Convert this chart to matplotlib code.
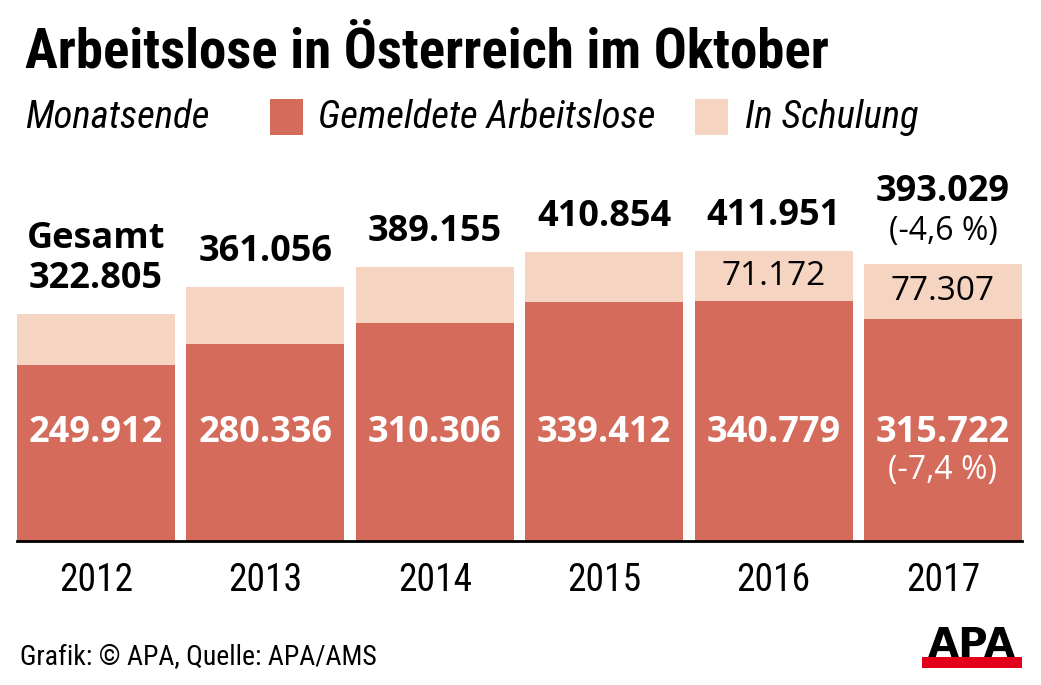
import matplotlib
matplotlib.use("Agg")
import matplotlib.pyplot as plt
from matplotlib.patches import Rectangle

years = ["2012", "2013", "2014", "2015", "2016", "2017"]
gemeldet = [249912, 280336, 310306, 339412, 340779, 315722]
gesamt = [322805, 361056, 389155, 410854, 411951, 393029]
schulung = [g - a for g, a in zip(gesamt, gemeldet)]
gemeldet_labels = ["249.912", "280.336", "310.306", "339.412", "340.779", "315.722"]
gesamt_labels = ["322.805", "361.056", "389.155", "410.854", "411.951", "393.029"]
schulung_labels = [None, None, None, None, "71.172", "77.307"]

DARK = "#D46B5B"
LIGHT = "#F5D4C2"
COND = "Roboto Condensed"
BOLD = "Open Sans"

W, H = 1041, 685
fig = plt.figure(figsize=(W / 100, H / 100), dpi=100)

def px(x, y):
    return x / W, 1 - y / H

ymax = 450000
scale = 0.000704  # px per unit
ax_h = ymax * scale
ax = fig.add_axes([17 / W, (H - 541) / H, 1005 / W, ax_h / H])
bw = 0.933
x = list(range(len(years)))
ax.bar(x, gemeldet, width=bw, color=DARK, linewidth=0)
ax.bar(x, schulung, width=bw, bottom=gemeldet, color=LIGHT, linewidth=0)
ax.set_xlim(-bw / 2, len(years) - 1 + bw / 2)
ax.set_ylim(0, ymax)
for s in ["top", "right", "left"]:
    ax.spines[s].set_visible(False)
ax.spines["bottom"].set_linewidth(2)
ax.spines["bottom"].set_color("black")
ax.set_yticks([])
ax.set_xticks(x)
ax.set_xticklabels(years, fontfamily=COND, fontsize=27)
ax.tick_params(axis="x", length=0, pad=15)

for i in x:
    ax.text(i, 153000, gemeldet_labels[i], ha="center", va="center", color="white",
            fontfamily=BOLD, fontweight="bold", fontsize=26)
    if schulung_labels[i]:
        ax.text(i, gemeldet[i] + schulung[i] / 2, schulung_labels[i], ha="center", va="center",
                color="black", fontfamily=BOLD, fontsize=24)
    if i == 5:
        ax.annotate("(-4,6 %)", (i, gesamt[i]), xytext=(0, 23.5), textcoords="offset points",
                    ha="center", va="center", fontfamily=BOLD, fontsize=23)
        ax.annotate(gesamt_labels[i], (i, gesamt[i]), xytext=(0, 52), textcoords="offset points",
                    ha="center", va="center", fontfamily=BOLD, fontweight="bold", fontsize=26)
        ax.text(i, 100000, "(-7,4 %)", ha="center", va="center", color="white",
                fontfamily=BOLD, fontsize=23)
    else:
        ax.annotate(gesamt_labels[i], (i, gesamt[i]), xytext=(0, 25), textcoords="offset points",
                    ha="center", va="center", fontfamily=BOLD, fontweight="bold", fontsize=26)
    if i == 0:
        ax.annotate("Gesamt", (i, gesamt[i]), xytext=(0, 54), textcoords="offset points",
                    ha="center", va="center", fontfamily=BOLD, fontweight="bold", fontsize=26)

# Title
fig.text(*px(25, 52), "Arbeitslose in Österreich im Oktober", ha="left", va="center",
         fontfamily=COND, fontweight="bold", fontsize=39.5)

# Legend
fig.text(*px(25, 117), "Monatsende", ha="left", va="center", fontfamily=COND,
         style="italic", fontsize=28)
fig.add_artist(Rectangle(px(270, 135), 33 / W, 36 / H, color=DARK, transform=fig.transFigure, lw=0))
fig.text(*px(318, 117), "Gemeldete Arbeitslose", ha="left", va="center", fontfamily=COND,
         style="italic", fontsize=28)
fig.add_artist(Rectangle(px(695, 135), 33 / W, 36 / H, color=LIGHT, transform=fig.transFigure, lw=0))
fig.text(*px(745, 117), "In Schulung", ha="left", va="center", fontfamily=COND,
         style="italic", fontsize=28)

# Footer
fig.text(*px(20, 658), "Grafik: © APA, Quelle: APA/AMS", ha="left", va="center",
         fontfamily=COND, fontsize=20)

# APA logo
fig.add_artist(Rectangle(px(922, 668), 100 / W, 11 / H, color="#E3001B", transform=fig.transFigure, lw=0))
fig.text(*px(972, 657), "APA", ha="center", va="baseline", fontfamily="DejaVu Sans",
         fontweight="bold", fontsize=29, color="black")

fig.savefig("out.png", dpi=100)
